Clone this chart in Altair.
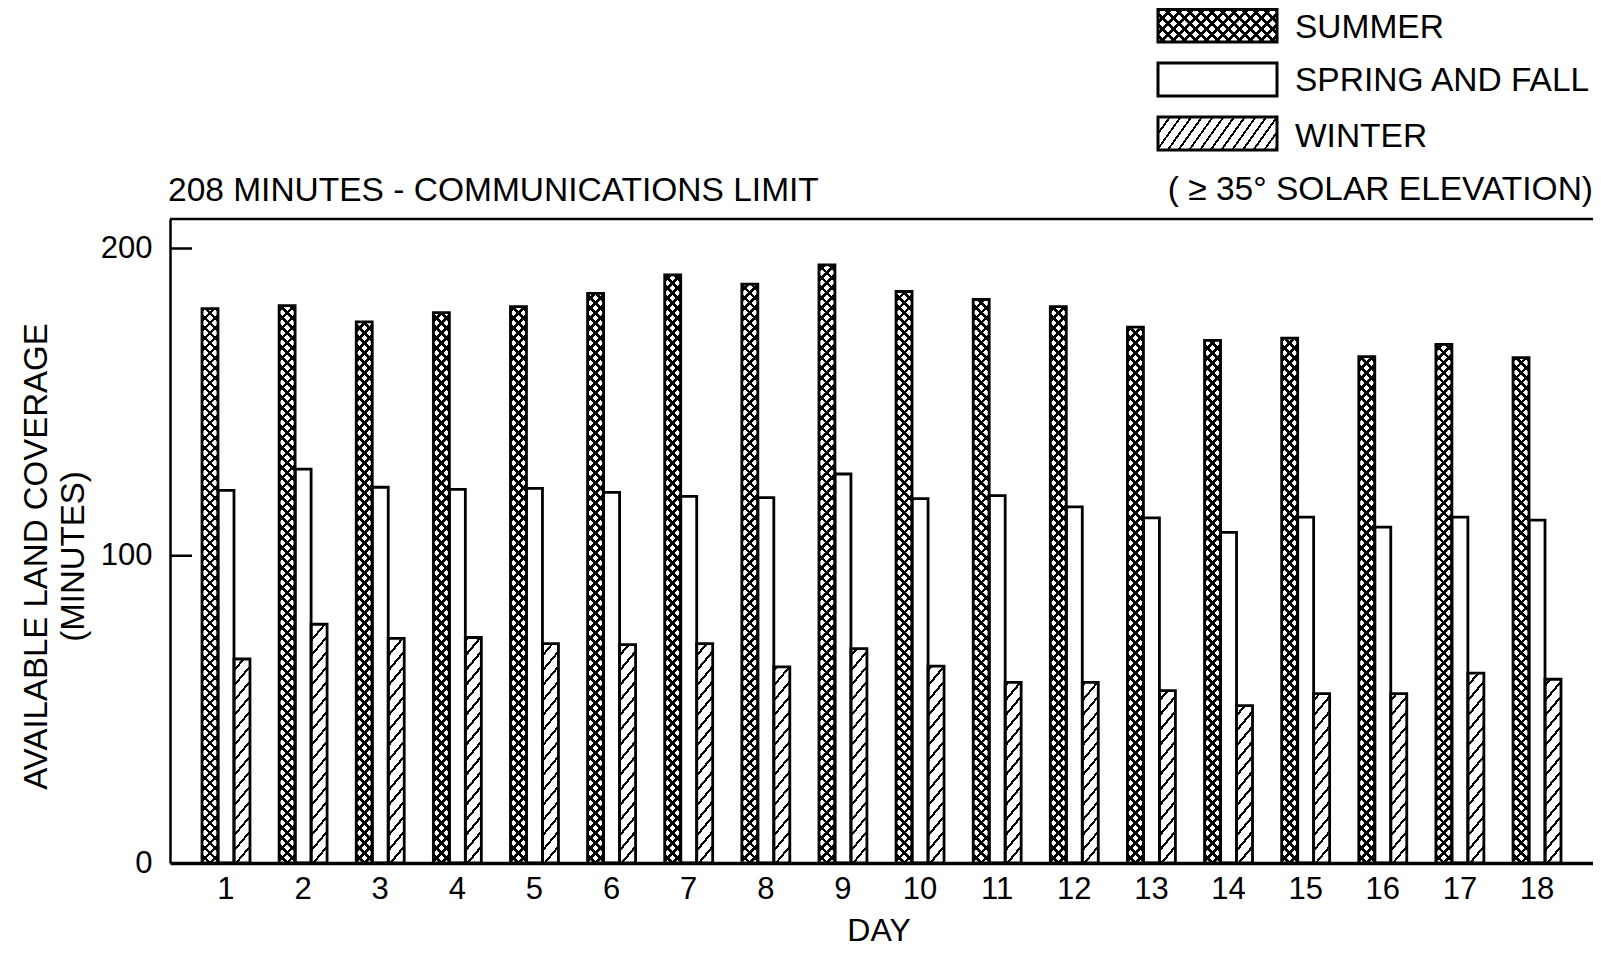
import altair as alt
import pandas as pd

# ---------------- data ----------------
DAYS = ["1", "2", "3", "4", "5", "6", "7", "8", "9", "10",
        "11", "12", "13", "14", "15", "16", "17", "18"]
SEASONS = ["SUMMER", "SPRING AND FALL", "WINTER"]
SUMMER = [180.4, 181.4, 176.1, 179.1, 181.1, 185.4, 191.4, 188.4, 194.7,
          186.0, 183.4, 181.1, 174.4, 170.1, 170.8, 164.8, 168.8, 164.5]
SPRING_FALL = [121.3, 128.2, 122.3, 121.6, 121.9, 120.6, 119.3, 118.9, 126.6,
               118.6, 119.6, 115.9, 112.3, 107.6, 112.6, 109.3, 112.6, 111.6]
WINTER = [66.4, 77.7, 73.1, 73.4, 71.4, 71.1, 71.4, 63.8, 69.8,
          64.1, 58.8, 58.8, 56.1, 51.2, 55.1, 55.1, 61.8, 59.8]
Y_TICK_VALUES = [0, 100, 200]
INNER_TICKS = [100, 200]
LIMIT = [208]
LIMIT_TEXT = ["208 MINUTES - COMMUNICATIONS LIMIT"]
NOTE_TEXT = ["( \u2265 35\u00b0 SOLAR ELEVATION)"]
X_TITLE = "DAY"
Y_TITLE = ["AVAILABLE LAND COVERAGE", "(MINUTES)"]

# ---------------- layout / style ----------------
W, H = 1423, 644
YMAX = 209.6
PAD_INNER, PAD_OUTER = 0.378, 0.415
FONT = "Liberation Sans"
STEP = W / (len(DAYS) - PAD_INNER + 2 * PAD_OUTER)
BAR_W = STEP * (1 - PAD_INNER) / 3


def hatch(w, h, k, period, frac, mirror=False, bg="white", fg="black"):
    """Linear gradient with hard stops that draws diagonal stripes."""
    total = k * w + h
    r = h / (k * w)
    a = (1 + r) / (1 + r * r)
    b = r * a
    if mirror:
        x1, y1, x2, y2 = 1.0, 0.0, 1.0 - a, b
    else:
        x1, y1, x2, y2 = 0.0, 0.0, a, b
    stops = []
    pos = 0.0
    while pos < total:
        o0 = round(pos / total, 6)
        o1 = round(min((pos + period * frac) / total, 1.0), 6)
        o2 = round(min((pos + period) / total, 1.0), 6)
        stops += [{"offset": o0, "color": fg}, {"offset": o1, "color": fg},
                  {"offset": o1, "color": bg}, {"offset": o2, "color": bg}]
        pos += period
    return {"gradient": "linear", "x1": x1, "y1": y1, "x2": x2, "y2": y2,
            "stops": stops}


CLEAR = "rgba(0,0,0,0)"

rows = []
for season, vals in zip(SEASONS, [SUMMER, SPRING_FALL, WINTER]):
    for d, v in zip(DAYS, vals):
        rows.append({"day": d, "season": season, "value": v})
df = pd.DataFrame(rows)

x_enc = alt.X(
    "day:N", sort=DAYS,
    scale=alt.Scale(domain=DAYS, paddingInner=PAD_INNER, paddingOuter=PAD_OUTER),
    axis=alt.Axis(title=X_TITLE, ticks=False, tickSize=0, labelAngle=0,
                  domainColor="black", domainWidth=3.5,
                  labelFontSize=31, labelPadding=11, labelColor="black",
                  titleFontSize=32, titleFontWeight="normal", titleColor="black",
                  titleX=W / 2 - 3, titleY=77, titleAlign="center",
                  titleBaseline="alphabetic"),
)
xo_enc = alt.XOffset("season:N",
                     scale=alt.Scale(domain=SEASONS, paddingInner=0, paddingOuter=0))
y_scale = alt.Scale(domain=[0, YMAX], nice=False, zero=True)
y_axis = alt.Axis(title=Y_TITLE, values=Y_TICK_VALUES, ticks=False, tickSize=0,
                  grid=False, domainColor="black", domainWidth=2.5,
                  labelFontSize=31, labelPadding=18, labelColor="black",
                  titleFontSize=33, titleFontWeight="normal", titleColor="black",
                  titleAngle=270, titleAlign="center", titleBaseline="alphabetic",
                  titleLineHeight=37.5, titleX=-124, titleY=337)

base = alt.Chart(df)
summer_df = base.transform_filter(alt.datum.season == "SUMMER")
winter_df = base.transform_filter(alt.datum.season == "WINTER")

y_full = alt.Y(datum=YMAX, type="quantitative", scale=y_scale, axis=y_axis)

# patterned full-height bars, then cut back to the value with a white cover
summer_a = summer_df.mark_bar(fill=hatch(BAR_W, H, 1.0, 10, 0.38), strokeWidth=0).encode(
    x=x_enc, xOffset=xo_enc, y=y_full, y2=alt.datum(0))
summer_b = summer_df.mark_bar(fill=hatch(BAR_W, H, 1.0, 10, 0.38, mirror=True, bg=CLEAR),
                              strokeWidth=0).encode(
    x=x_enc, xOffset=xo_enc, y=y_full, y2=alt.datum(0))
winter_a = winter_df.mark_bar(fill=hatch(BAR_W, H, 1.2, 15, 0.22), strokeWidth=0).encode(
    x=x_enc, xOffset=xo_enc, y=y_full, y2=alt.datum(0))

cover = base.transform_filter(alt.datum.season != "SPRING AND FALL").mark_bar(
    fill="white", stroke="white", strokeWidth=2).encode(
    x=x_enc, xOffset=xo_enc,
    y=alt.Y("value:Q", scale=y_scale, axis=y_axis), y2=alt.datum(YMAX))

outline = base.mark_bar(fill="white", fillOpacity=0, stroke="black",
                        strokeWidth=2.8).encode(
    x=x_enc, xOffset=xo_enc, y=alt.Y("value:Q", scale=y_scale, axis=y_axis))

# communications-limit line, drawn along the top of the plot frame
limit_rule = alt.Chart(pd.DataFrame({"limit": LIMIT})).mark_rule(
    color="black", strokeWidth=2.5).encode(
    y=alt.value(0), x=alt.value(0), x2=alt.value(W))

inner_ticks = alt.Chart(pd.DataFrame({"tick": INNER_TICKS})).mark_rule(
    color="black", strokeWidth=2.5).encode(
    y=alt.Y("tick:Q", scale=y_scale, axis=y_axis), x=alt.value(0), x2=alt.value(22))

limit_label = alt.Chart(pd.DataFrame({"label": LIMIT_TEXT})).mark_text(
    align="left", baseline="alphabetic", fontSize=33.5, font=FONT, color="black").encode(
    text="label:N", x=alt.value(-2), y=alt.value(-18))

note_label = alt.Chart(pd.DataFrame({"label": NOTE_TEXT})).mark_text(
    align="right", baseline="middle", fontSize=33.5, font=FONT, color="black").encode(
    text="label:N", x=alt.value(W), y=alt.value(-29))

# ---------------- legend (drawn by hand, above the plot) ----------------
LX0, LX1 = 988, 1107
LEG_ROWS = [(-209.5, -177), (-156, -123), (-102, -69)]
LEG_TEXT_Y = [-191, -138.5, -82]
LW = LX1 - LX0
legend_layers = []


def swatch(season, y0, y1, fill):
    return alt.Chart(pd.DataFrame({"season": [season]})).mark_rect(
        fill=fill, strokeWidth=0).encode(
        x=alt.value(LX0), x2=alt.value(LX1), y=alt.value(y0), y2=alt.value(y1))


s_h = LEG_ROWS[0][1] - LEG_ROWS[0][0]
w_h = LEG_ROWS[2][1] - LEG_ROWS[2][0]
legend_layers.append(swatch(SEASONS[0], *LEG_ROWS[0], hatch(LW, s_h, 1.0, 11, 0.38)))
legend_layers.append(swatch(SEASONS[0], *LEG_ROWS[0],
                            hatch(LW, s_h, 1.0, 11, 0.38, mirror=True, bg=CLEAR)))
legend_layers.append(swatch(SEASONS[1], *LEG_ROWS[1], "white"))
legend_layers.append(swatch(SEASONS[2], *LEG_ROWS[2], hatch(LW, w_h, 1.4, 15, 0.22)))
for (y0, y1), season, ty in zip(LEG_ROWS, SEASONS, LEG_TEXT_Y):
    legend_layers.append(alt.Chart(pd.DataFrame({"season": [season]})).mark_rect(
        fill="white", fillOpacity=0, stroke="black", strokeWidth=3).encode(
        x=alt.value(LX0), x2=alt.value(LX1), y=alt.value(y0), y2=alt.value(y1)))
    legend_layers.append(alt.Chart(pd.DataFrame({"season": [season]})).mark_text(
        align="left", baseline="middle", fontSize=33.5, font=FONT, color="black").encode(
        text="season:N", x=alt.value(LX1 + 18), y=alt.value(ty)))

chart = alt.layer(
    summer_a, summer_b, winter_a, cover, outline, limit_rule, inner_ticks,
    limit_label, note_label, *legend_layers
).properties(
    width=W, height=H,
    autosize=alt.AutoSizeParams(type="none"),
    padding={"left": 162, "top": 211, "right": 0, "bottom": 85},
    background="white",
).configure(font=FONT).configure_view(stroke=None).configure_axis(
    labelFont=FONT, titleFont=FONT)

chart.save("out.html", embed_options={"renderer": "svg", "actions": False})
